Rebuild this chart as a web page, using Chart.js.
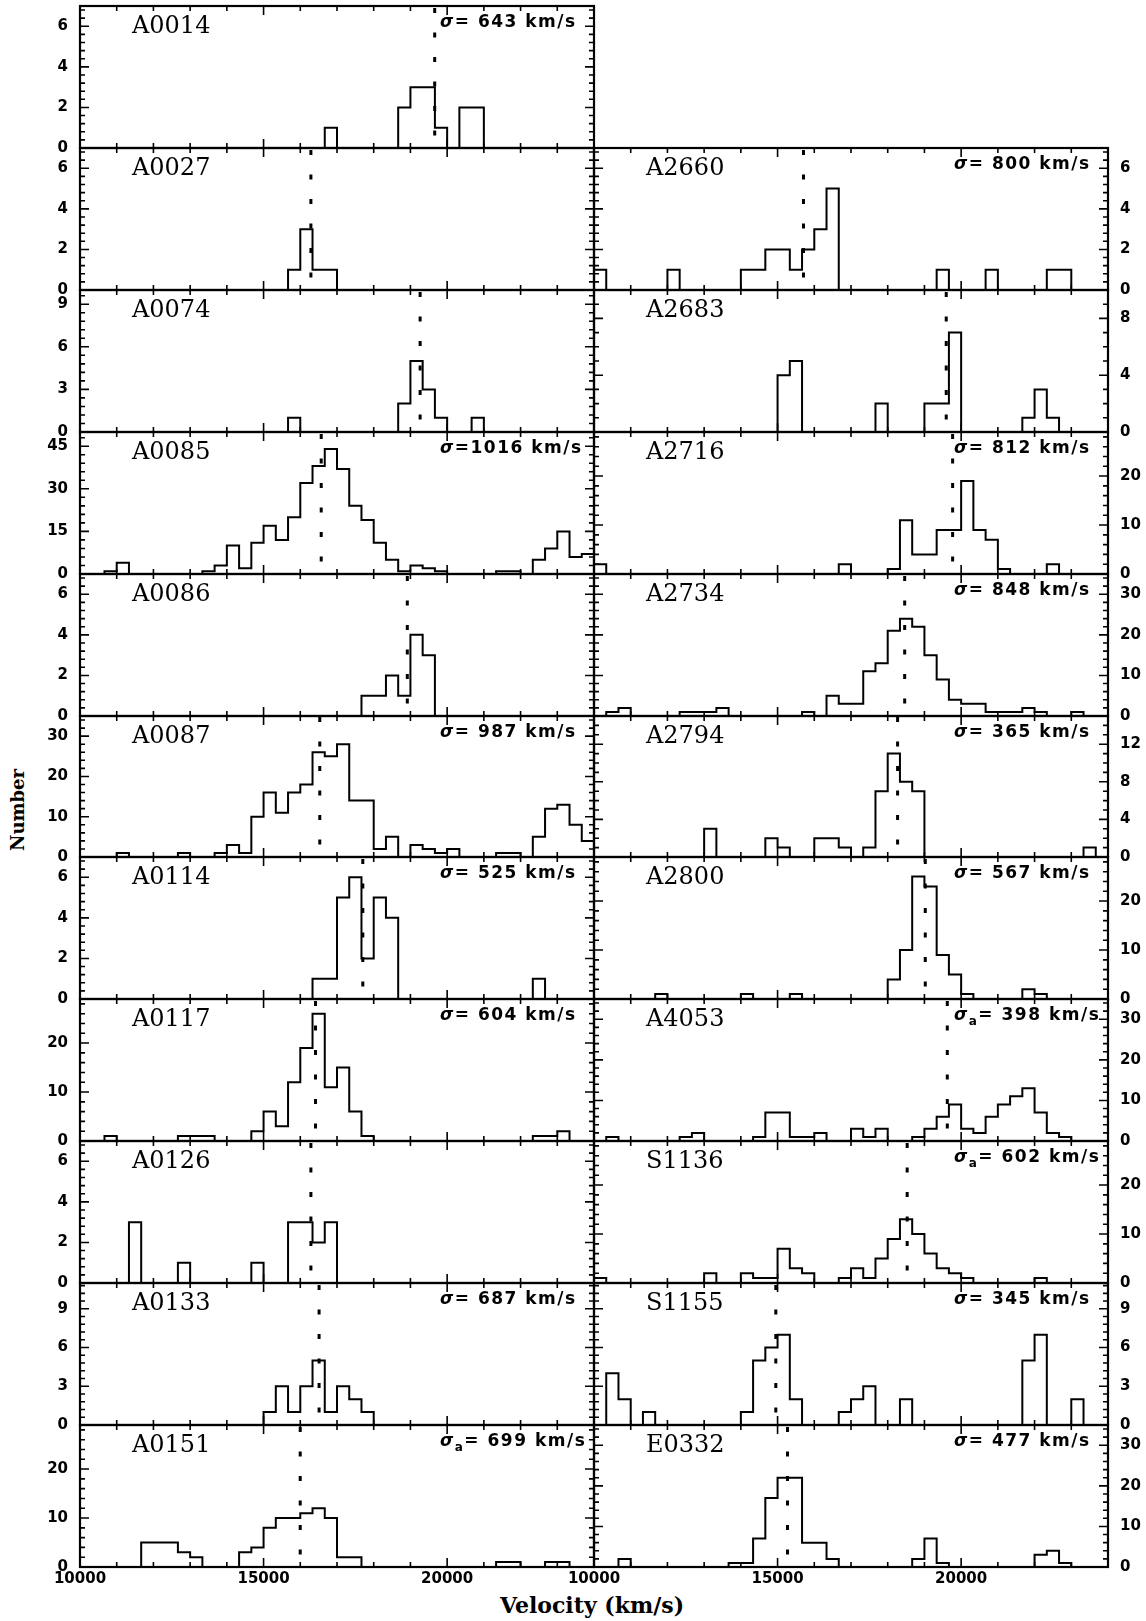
<!DOCTYPE html>
<html>
<head>
<meta charset="utf-8">
<script src="https://cdn.jsdelivr.net/npm/chart.js@4.4.0/dist/chart.umd.min.js"></script>
<style>
    body { margin: 0; background: #fff; width: 1146px; height: 1621px; position: relative; overflow: hidden; }
    canvas { position: absolute; }
    .axis-title { position: absolute; font-family: 'DejaVu Serif'; font-weight: bold; white-space: nowrap; color: #000; }
</style>
</head>
<body>
<div class="axis-title" style="left:17px; top:810px; font-size:18px; transform: translate(-50%, -50%) rotate(-90deg);">Number</div>
<div class="axis-title" style="left:592px; top:1592px; font-size:22px; transform: translateX(-50%);">Velocity (km/s)</div>
<script>
// ===== DATA =====
// velocity bins: 42 bins of 1000/3 km/s from 10000 to 24000
const X_MIN = 10000;
const X_MAX = 24000;
const BIN_W = 1000 / 3;
const xTickLabels = [10000, 15000, 20000];

const clusterNames = [
    'A0014', 'A0027', 'A0074', 'A0085', 'A0086', 'A0087', 'A0114', 'A0117', 'A0126', 'A0133', 'A0151',
    'A2660', 'A2683', 'A2716', 'A2734', 'A2794', 'A2800', 'A4053', 'S1136', 'S1155', 'E0332'
];

// counts per bin (10 per group)
const A0014 = [0,0,0,0,0,0,0,0,0,0, 0,0,0,0,0,0,0,0,0,0, 1,0,0,0,0,0,2,3,3,1, 0,2,2,0,0,0,0,0,0,0, 0,0];
const A0027 = [0,0,0,0,0,0,0,0,0,0, 0,0,0,0,0,0,0,1,3,1, 1,0,0,0,0,0,0,0,0,0, 0,0,0,0,0,0,0,0,0,0, 0,0];
const A0074 = [0,0,0,0,0,0,0,0,0,0, 0,0,0,0,0,0,0,1,0,0, 0,0,0,0,0,0,2,5,3,1, 0,0,1,0,0,0,0,0,0,0, 0,0];
const A0085 = [0,0,1,4,0,0,0,0,0,0, 1,3,10,2,11,17,12,20,32,38, 44,37,24,19,11,5,1,3,2,1, 0,0,0,0,1,1,0,5,9,15, 6,7];
const A0086 = [0,0,0,0,0,0,0,0,0,0, 0,0,0,0,0,0,0,0,0,0, 0,0,0,1,1,2,1,4,3,0, 0,0,0,0,0,0,0,0,0,0, 0,0];
const A0087 = [0,0,0,1,0,0,0,0,1,0, 0,1,3,1,10,16,11,16,18,26, 25,28,14,14,2,5,0,3,2,1, 2,0,0,0,1,1,0,5,12,13, 8,4];
const A0114 = [0,0,0,0,0,0,0,0,0,0, 0,0,0,0,0,0,0,0,0,1, 1,5,6,2,5,4,0,0,0,0, 0,0,0,0,0,0,0,1,0,0, 0,0];
const A0117 = [0,0,1,0,0,0,0,0,1,1, 1,0,0,0,2,6,3,12,19,26, 11,15,6,1,0,0,0,0,0,0, 0,0,0,0,0,0,0,1,1,2, 0,0];
const A0126 = [0,0,0,0,3,0,0,0,1,0, 0,0,0,0,1,0,0,3,3,2, 3,0,0,0,0,0,0,0,0,0, 0,0,0,0,0,0,0,0,0,0, 0,0];
const A0133 = [0,0,0,0,0,0,0,0,0,0, 0,0,0,0,0,1,3,1,3,5, 1,3,2,1,0,0,0,0,0,0, 0,0,0,0,0,0,0,0,0,0, 0,0];
const A0151 = [0,0,0,0,0,5,5,5,3,2, 0,0,0,3,4,8,10,10,11,12, 10,2,2,0,0,0,0,0,0,0, 0,0,0,0,1,1,0,0,1,1, 0,0];
const A2660 = [1,0,0,0,0,0,1,0,0,0, 0,0,1,1,2,2,1,2,3,5, 0,0,0,0,0,0,0,0,1,0, 0,0,1,0,0,0,0,1,1,0, 0,0];
const A2683 = [0,0,0,0,0,0,0,0,0,0, 0,0,0,0,0,4,5,0,0,0, 0,0,0,2,0,0,0,2,2,7, 0,0,0,0,0,1,3,1,0,0, 0,0];
const A2716 = [2,0,0,0,0,0,0,0,0,0, 0,0,0,0,0,0,0,0,0,0, 2,0,0,0,1,11,4,4,9,9, 19,9,7,1,0,0,0,2,0,0, 0,0];
const A2734 = [0,1,2,0,0,0,0,1,1,1, 2,0,0,0,0,0,0,1,0,5, 3,3,11,13,21,24,22,15,9,4, 3,3,1,1,1,2,1,0,0,1, 0,0];
const A2794 = [0,0,0,0,0,0,0,0,0,3, 0,0,0,0,2,1,0,0,2,2, 1,0,1,7,11,8,7,0,0,0, 0,0,0,0,0,0,0,0,0,0, 1,0];
const A2800 = [0,0,0,0,0,1,0,0,0,0, 0,0,1,0,0,0,1,0,0,0, 0,0,0,0,4,10,25,23,9,5, 1,0,0,0,0,2,1,0,0,0, 0,0];
const A4053 = [0,1,0,0,0,0,0,1,2,0, 0,0,0,1,7,7,1,1,2,0, 0,3,1,3,0,0,1,3,6,9, 3,2,6,9,11,13,7,2,1,0, 0,0];
const S1136 = [1,0,0,0,0,0,0,0,0,2, 0,0,2,1,1,7,3,2,0,0, 1,3,1,5,9,13,10,6,3,2, 1,0,0,0,0,0,1,0,0,0, 0,0];
const S1155 = [0,4,2,0,1,0,0,0,0,0, 0,0,1,5,6,7,2,0,0,0, 1,2,3,0,0,2,0,0,0,0, 0,0,0,0,0,5,7,0,0,2, 0,0];
const E0332 = [0,0,2,0,0,0,0,0,0,0, 0,1,1,7,17,22,22,6,6,2, 0,0,0,0,0,0,2,7,1,0, 0,0,0,0,0,0,3,4,1,0, 0,0];

const binCounts = [A0014, A0027, A0074, A0085, A0086, A0087, A0114, A0117, A0126, A0133, A0151,
                   A2660, A2683, A2716, A2734, A2794, A2800, A4053, S1136, S1155, E0332];

// mean velocity (dotted line)
const meanVelocity = [19661, 16289, 19264, 16570, 18915, 16531, 17703, 16415, 16289, 16512, 15998,
                      15706, 19594, 19768, 18462, 18269, 19023, 19623, 18530, 14952, 15271];

// velocity dispersion labels (null = none), sigmaA = sigma with subscript a
const sigmaValues = [643, null, null, 1016, null, 987, 525, 604, null, 687, 699,
                     800, null, 812, 848, 365, 567, 398, 602, 345, 477];
const sigmaA = [false, false, false, false, false, false, false, false, false, false, true,
                false, false, false, false, false, false, true, true, false, false];

// y axis range and labelled tick step
const yMaxValues = [7, 7, 10, 50, 7, 35, 7, 29, 7, 11, 29,
                    7, 10, 29, 35, 15, 29, 35, 29, 11, 35];
const yStepValues = [2, 2, 3, 15, 2, 10, 2, 10, 2, 3, 10,
                     2, 4, 10, 10, 4, 10, 10, 10, 3, 10];

// ===== LAYOUT =====
const PLOT_LEFT = 80, PLOT_MID = 594, PLOT_RIGHT = 1108;
const PLOT_TOP = 6, ROW_H = 141.9, N_ROWS = 11, PAGE_H = 1621;

const tickFont = { family: 'DejaVu Sans', size: 15, weight: 'bold' };

// inward ticks, frame and panel texts
const panelDecor = {
    id: 'panelDecor',
    afterDraw(chart, args, o) {
        const { ctx, chartArea: a, scales: { x, y } } = chart;
        ctx.save();
        ctx.strokeStyle = '#000';
        ctx.lineWidth = 1.6;
        ctx.beginPath();
        for (let v = X_MIN + 1000; v < X_MAX; v += 1000) {
            const px = x.getPixelForValue(v);
            const len = v % 5000 === 0 ? 9 : 5;
            ctx.moveTo(px, a.bottom); ctx.lineTo(px, a.bottom - len);
            ctx.moveTo(px, a.top); ctx.lineTo(px, a.top + len);
        }
        for (let k = 1; k * o.minor < y.max - 1e-6; k++) {
            const v = k * o.minor;
            const r = v / o.step;
            const major = Math.abs(r - Math.round(r)) < 1e-6;
            const py = y.getPixelForValue(v);
            const len = major ? 9 : 5;
            ctx.moveTo(a.left, py); ctx.lineTo(a.left + len, py);
            ctx.moveTo(a.right, py); ctx.lineTo(a.right - len, py);
        }
        ctx.stroke();
        ctx.lineWidth = 2.2;
        ctx.strokeRect(a.left, a.top, a.right - a.left, a.bottom - a.top);

        ctx.fillStyle = '#000';
        ctx.textBaseline = 'alphabetic';
        ctx.font = "24px 'DejaVu Serif'";
        ctx.fillText(o.name, a.left + 52, a.top + 27);

        if (o.sigma != null) {
            let tx = a.left + 360;
            const by = a.top + 21;
            ctx.letterSpacing = '1.5px';
            ctx.font = "italic bold 17px 'DejaVu Sans'";
            ctx.fillText('σ', tx, by);
            tx += ctx.measureText('σ').width;
            if (o.subA) {
                ctx.font = "bold 12px 'DejaVu Sans'";
                ctx.fillText('a', tx, by + 5);
                tx += ctx.measureText('a').width;
            }
            ctx.font = "bold 17px 'DejaVu Sans'";
            const txt = (o.sigma >= 1000 ? '=' : '= ') + o.sigma + ' km/s';
            ctx.fillText(txt, tx, by);
        }
        ctx.restore();
    }
};

function makePanel(i) {
    const col = i < 11 ? 0 : 1;
    const row = col === 0 ? i : i - 10;
    const isBottom = row === N_ROWS - 1;
    const top = Math.round(PLOT_TOP + row * ROW_H);
    const bottom = Math.round(PLOT_TOP + (row + 1) * ROW_H);

    // room above/below the plot area must exceed the y axis label overhang
    const padTop = 26;
    const canvasTop = top - padTop;
    const canvasH = isBottom ? PAGE_H - canvasTop : (bottom - top) + 2 * padTop;
    const xAxisH = canvasH - padTop - (bottom - top);

    let canvasLeft, canvasW, padLeft, padRight, yAxisW;
    if (col === 0) {
        canvasLeft = 0; canvasW = PLOT_MID + 6;
        padLeft = 0; padRight = 6; yAxisW = PLOT_LEFT;
    } else {
        canvasLeft = PLOT_MID - 34; canvasW = 1146 - canvasLeft;
        padLeft = 34; padRight = 0; yAxisW = 1146 - PLOT_RIGHT;
    }

    const canvas = document.createElement('canvas');
    canvas.width = canvasW;
    canvas.height = canvasH;
    canvas.style.left = canvasLeft + 'px';
    canvas.style.top = canvasTop + 'px';
    canvas.style.width = canvasW + 'px';
    canvas.style.height = canvasH + 'px';
    document.body.appendChild(canvas);

    const counts = binCounts[i];
    const histPoints = [];
    for (let b = 0; b <= counts.length; b++) {
        histPoints.push({ x: X_MIN + b * BIN_W, y: counts[Math.min(b, counts.length - 1)] });
    }
    const step = yStepValues[i];
    const minor = step === 4 ? 1 : step / 5;

    new Chart(canvas.getContext('2d'), {
        type: 'line',
        data: {
            datasets: [
                {
                    data: histPoints,
                    stepped: 'before',
                    borderColor: '#000',
                    borderWidth: 2,
                    pointRadius: 0,
                    fill: false
                },
                {
                    data: [{ x: meanVelocity[i], y: 0 }, { x: meanVelocity[i], y: yMaxValues[i] }],
                    borderColor: '#000',
                    borderWidth: 3,
                    borderDash: [5, 19.5],
                    borderDashOffset: 12,
                    pointRadius: 0,
                    fill: false
                }
            ]
        },
        options: {
            responsive: false,
            animation: false,
            devicePixelRatio: 1,
            layout: { padding: { top: padTop, bottom: 0, left: padLeft, right: padRight } },
            plugins: {
                legend: { display: false },
                tooltip: { enabled: false },
                panelDecor: {
                    name: clusterNames[i],
                    sigma: sigmaValues[i],
                    subA: sigmaA[i],
                    step: step,
                    minor: minor
                }
            },
            scales: {
                x: {
                    type: 'linear',
                    min: X_MIN,
                    max: X_MAX,
                    grid: { display: false, drawTicks: false },
                    border: { display: false },
                    afterBuildTicks: s => { s.ticks = xTickLabels.map(v => ({ value: v })); },
                    ticks: {
                        display: isBottom,
                        autoSkip: false,
                        maxRotation: 0,
                        padding: 3,
                        color: '#000',
                        font: tickFont,
                        callback: v => String(v)
                    },
                    afterFit: s => { s.height = xAxisH; }
                },
                y: {
                    type: 'linear',
                    position: col === 0 ? 'left' : 'right',
                    min: 0,
                    max: yMaxValues[i],
                    grid: { display: false, drawTicks: false },
                    border: { display: false },
                    ticks: {
                        stepSize: step,
                        includeBounds: false,
                        autoSkip: false,
                        padding: 12,
                        color: '#000',
                        font: tickFont,
                        callback: v => String(v)
                    },
                    afterFit: s => { s.width = yAxisW; }
                }
            }
        },
        plugins: [panelDecor]
    });
}

clusterNames.forEach((_, i) => makePanel(i));
</script>
</body>
</html>
